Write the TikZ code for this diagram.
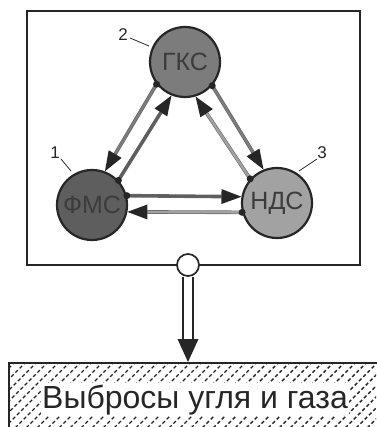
\documentclass[tikz,border=0pt]{standalone}
\usepackage{fontspec}
\setmainfont{Liberation Sans}
\usetikzlibrary{calc}
\definecolor{cFMS}{HTML}{5E5E5E}
\definecolor{cGKS}{HTML}{7C7C7C}
\definecolor{cNDS}{HTML}{A2A2A2}
\definecolor{ink}{HTML}{262626}
\newcommand\linkarrow[3]{% #1 colour, #2 start, #3 end
  \path (#3) coordinate (T) ($(#3)!20pt!(#2)$) coordinate (B);
  \draw[linkline=#1] (#2) -- (B);
  \fill[ink] (T) -- ($(B)!7.5pt!90:(T)$) -- ($(B)!7.5pt!-90:(T)$) -- cycle;
  \fill[ink] (#2) circle (3.5pt);}
\begin{document}
\begin{tikzpicture}[x=1pt,y=-1pt,
  state/.style={circle, draw=ink, line width=2.2pt, minimum size=70pt, inner sep=0pt,
    font=\fontsize{25}{25}\selectfont, text=ink!90},
  linkline/.style={line width=2.4pt, draw=#1, preaction={draw=black!60, line width=3.6pt}},
  numlab/.style={font=\fontsize{17}{17}\selectfont, text=ink, inner sep=0pt},
  leader/.style={draw=ink, line width=0.8pt},
  hatch/.style={draw=black!85, line width=1.4pt, dash pattern=on 3.5pt off 2.5pt},
]
\useasboundingbox (0,0) rectangle (376,427);

% frame
\draw[draw=ink, line width=1.7pt] (27,11) rectangle (360,265);

% states
\node[state, fill=cGKS] (g) at (185,62) {ГКС};
\node[state, fill=cFMS] (f) at (92,205) {ФМС};
\node[state, fill=cNDS] (n) at (277,203) {НДС};

% connectors
\linkarrow{cGKS}{g.218.7}{f.69}
\linkarrow{cFMS}{f.43.8}{g.248.5}
\linkarrow{cGKS}{g.319}{n.112}
\linkarrow{cNDS}{n.138.5}{g.287.5}
\linkarrow{cFMS}{f.15}{n.170}
\linkarrow{cNDS}{n.195}{f.349}

% number labels
\node[numlab] (l2) at (123,35) {2};
\node[numlab] (l1) at (55,153) {1};
\node[numlab] (l3) at (322,153) {3};
\coordinate (l2e) at (149,46);
\coordinate (l1e) at (71,171);
\coordinate (l3e) at (299,171);
\draw[leader] (130,38) -- (l2e);
\draw[leader] (61,159) -- (l1e);
\draw[leader] (317,159) -- (l3e);

% output box
\begin{scope}
\clip (9,363) rectangle (376,427);
\foreach \k in {-8,...,36}
  \draw[hatch] (\k*11, 432) -- ++(75,-75);
\end{scope}
\draw[draw=ink, line width=1.7pt] (9,363) rectangle (384,435);
\node[fill=white, inner sep=1.5pt, text=ink, font=\fontsize{32}{32}\selectfont, anchor=base]
  (out) at (195,408) {Выбросы угля и газа};

% hub and shaft
\node[circle, draw=ink, fill=white, line width=1.7pt, minimum size=22pt, inner sep=0pt] (hub) at (188,265) {};
\coordinate (sh) at (188,340);
\coordinate (tip) at (188,362);
\draw[draw=ink, line width=2pt, double=white, double distance=8.5pt] (hub.south) -- (sh);
\fill[ink] (177.5,339) -- (198.5,339) -- (tip) -- cycle;
\end{tikzpicture}
\end{document}
